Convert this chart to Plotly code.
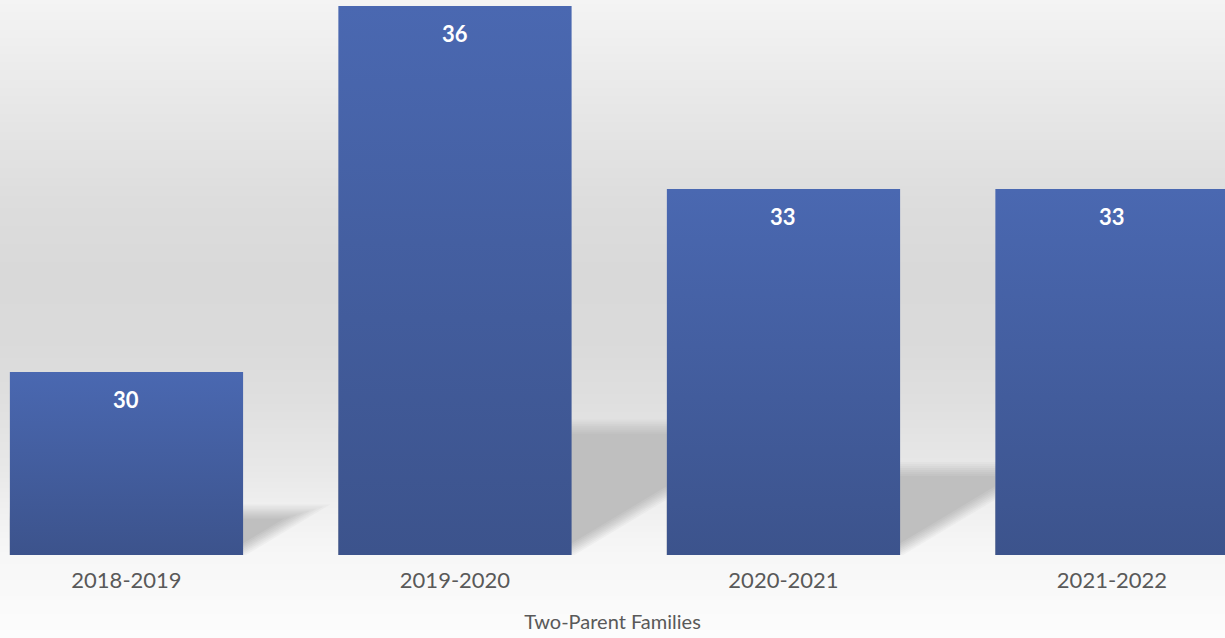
import plotly.graph_objects as go

# ---- data ----
categories = ["2018-2019", "2019-2020", "2020-2021", "2021-2022"]
families = [30, 36, 33, 33]
axis_title = "Two-Parent Families"

# ---- geometry & style ----
W, H = 1225, 638
MARGIN_B = 83
Y_MIN, Y_MAX = 27, 36.1
X_RANGE = [-0.385, 3.344]
BAR_HALF = 0.355
BAR_TOP = "#4A68B1"
BAR_BOTTOM = "#3C538C"
TEXT_GREY = "#595959"
FONT = "Lato"

plot_h = H - MARGIN_B
px_x = W / (X_RANGE[1] - X_RANGE[0])   # pixels per category unit
px_y = plot_h / (Y_MAX - Y_MIN)         # pixels per value unit

positions = list(range(len(categories)))

fig = go.Figure()

# ---- soft perspective shadows cast to the right of each bar ----
SHADOW_FRAC = 0.232      # shadow height relative to bar height
SHADOW_SLOPE = 0.6       # rise over run of the slanted edge (pixels)
SHADOW_INSET = -10       # slanted edge starts this many px from the bar's right side
SHADOW_RGB = "191,191,191"
blur_steps = [8, 6, 4, 2, 0, -2, -4, -6]   # outer -> inner offsets (px)
n_steps = len(blur_steps)
for x, v in zip(positions, families):
    hs = SHADOW_FRAC * (v - Y_MIN) * px_y
    left, right = x - BAR_HALF, x + BAR_HALF
    for k, d in enumerate(blur_steps):
        # alpha chosen so that coverage ramps linearly across the blur band
        alpha = 1.0 / (n_steps - k)
        top = hs + d
        rx0 = right + (SHADOW_INSET + 1.6 * d) / px_x
        rx1 = rx0 + top / SHADOW_SLOPE / px_x
        ytop = Y_MIN + top / px_y
        fig.add_trace(go.Scatter(
            x=[left, rx0, rx1, left, left],
            y=[Y_MIN, Y_MIN, ytop, ytop, Y_MIN],
            fill="toself", fillcolor=f"rgba({SHADOW_RGB},{alpha:.3f})",
            mode="lines", line=dict(width=0, color="rgba(0,0,0,0)"),
            hoverinfo="skip", showlegend=False,
        ))

# ---- bars with a vertical gradient ----
for x, v, cat in zip(positions, families, categories):
    fig.add_trace(go.Scatter(
        x=[x - BAR_HALF, x + BAR_HALF, x + BAR_HALF, x - BAR_HALF, x - BAR_HALF],
        y=[Y_MIN, Y_MIN, v, v, Y_MIN],
        fill="toself",
        fillgradient=dict(type="vertical",
                          colorscale=[[0, BAR_BOTTOM], [1, BAR_TOP]]),
        mode="lines", line=dict(width=0, color="rgba(0,0,0,0)"),
        name=cat, hoverinfo="skip", showlegend=False,
    ))
    fig.add_annotation(
        x=x, y=v, yanchor="middle", yshift=-27, showarrow=False,
        text=f"<b>{v}</b>", font=dict(family=FONT, size=22, color="white"),
    )

# ---- background: light top, grey wall, near-white floor ----
grey_stops = [(0, 244), (100, 232), (200, 221), (270, 217), (340, 218),
              (400, 223), (470, 232), (510, 240), (555, 247), (638, 252)]


def grey_at(py):
    for (y0, g0), (y1, g1) in zip(grey_stops[:-1], grey_stops[1:]):
        if y0 <= py <= y1:
            return g0 + (g1 - g0) * (py - y0) / (y1 - y0)
    return grey_stops[-1][1]


shapes = []
STRIP = 2
for py in range(0, H, STRIP):
    g = round(grey_at(py + STRIP / 2))
    shapes.append(dict(
        type="rect", xref="paper", yref="paper", layer="below",
        x0=0, x1=1,
        y0=(plot_h - py) / plot_h, y1=(plot_h - py - STRIP - 0.5) / plot_h,
        fillcolor=f"rgb({g},{g},{g})", line=dict(width=0),
    ))

fig.update_layout(
    width=W, height=H, autosize=False,
    margin=dict(l=0, r=0, t=0, b=MARGIN_B),
    paper_bgcolor="white", plot_bgcolor="rgba(0,0,0,0)",
    shapes=shapes, showlegend=False,
    font=dict(family=FONT, color=TEXT_GREY),
    xaxis=dict(
        range=X_RANGE, tickmode="array", tickvals=positions, ticktext=categories,
        showgrid=False, zeroline=False, showline=False, ticks="",
        ticklabelstandoff=10,
        tickfont=dict(family=FONT, size=22, color=TEXT_GREY),
        title=dict(text=axis_title, standoff=22,
                   font=dict(family=FONT, size=20, color=TEXT_GREY)),
        fixedrange=True,
    ),
    yaxis=dict(range=[Y_MIN, Y_MAX], visible=False, fixedrange=True),
)

fig.write_html("out.html")
